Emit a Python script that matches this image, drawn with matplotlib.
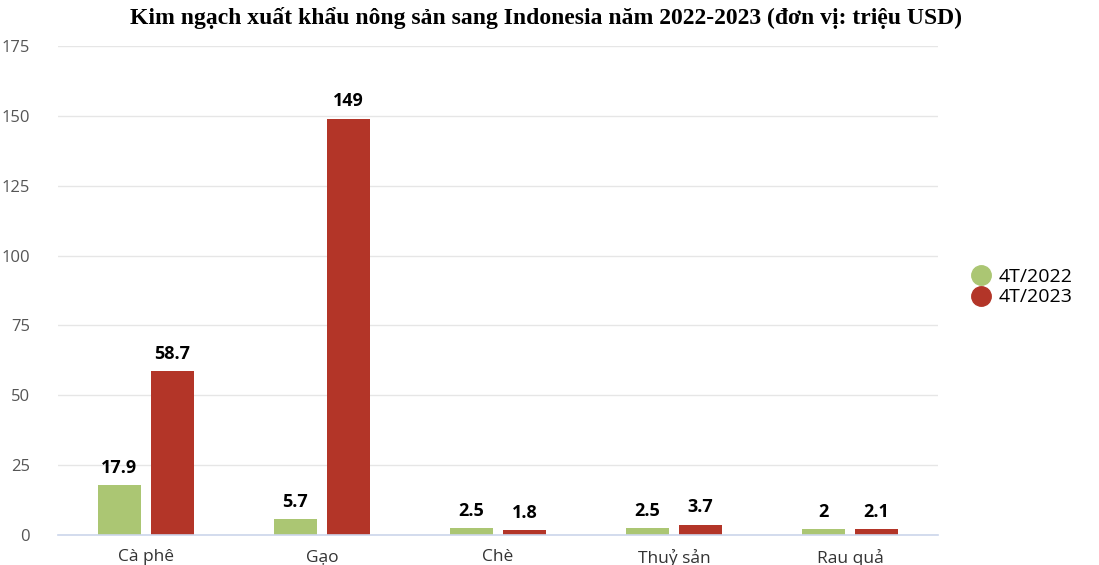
import numpy as np
import matplotlib.pyplot as plt

categories = ['Cà phê', 'Gạo', 'Chè', 'Thuỷ sản', 'Rau quả']
series_names = ['4T/2022', '4T/2023']
v2022 = [17.9, 5.7, 2.5, 2.5, 2]
v2023 = [58.7, 149, 1.8, 3.7, 2.1]
labels2022 = ['17.9', '5.7', '2.5', '2.5', '2']
labels2023 = ['58.7', '149', '1.8', '3.7', '2.1']
yticks = [0, 25, 50, 75, 100, 125, 150, 175]

green = '#abc673'
red = '#b33528'

fig = plt.figure(figsize=(10.99, 5.65), dpi=100)
ax = fig.add_axes([58 / 1099, (565 - 535) / 565, 880 / 1099, 489 / 565])

x = np.arange(len(categories))
w = 0.24
off = 0.151
b1 = ax.bar(x - off, v2022, w, color=green, label=series_names[0], zorder=3)
b2 = ax.bar(x + off, v2023, w, color=red, label=series_names[1], zorder=3)

for bars, labs in ((b1, labels2022), (b2, labels2023)):
    for b, t in zip(bars, labs):
        ax.annotate(t, (b.get_x() + b.get_width() / 2, b.get_height()),
                    xytext=(0, 6), textcoords='offset points',
                    ha='center', va='bottom', fontsize=13, fontweight='bold',
                    family='Open Sans', color='#000000')

ax.set_xlim(-0.5, len(categories) - 0.5)
ax.set_ylim(0, 175)
ax.set_yticks(yticks)
ax.set_xticks(x)
ax.set_xticklabels(categories, family='Open Sans', fontsize=12.5, color='#333333')
ax.set_yticklabels([str(v) for v in yticks], family='Open Sans', fontsize=12, color='#555555')
ax.tick_params(axis='both', length=0)
ax.tick_params(axis='x', pad=10)
ax.tick_params(axis='y', pad=20)

ax.grid(axis='y', color='#e6e6e6', linewidth=1, zorder=0)
for s in ['top', 'right', 'left']:
    ax.spines[s].set_visible(False)
ax.spines['bottom'].set_color('#ccd6eb')
ax.spines['bottom'].set_linewidth(1.2)
ax.spines['bottom'].set_zorder(4)

fig.text(546 / 1099, 1 - 18 / 565, 'Kim ngạch xuất khẩu nông sản sang Indonesia năm 2022-2023 (đơn vị: triệu USD)',
         ha='center', va='center', fontsize=17, fontweight='bold', family='Liberation Serif')

handles = [plt.Line2D([], [], marker='o', linestyle='', markersize=14, color=green),
           plt.Line2D([], [], marker='o', linestyle='', markersize=14, color=red)]
fig.legend(handles, series_names, loc='center left', bbox_to_anchor=(962 / 1099, 1 - 287 / 565),
           frameon=False, prop={'family': 'Open Sans', 'size': 14}, handletextpad=0.3,
           labelspacing=0.15, borderaxespad=0, handlelength=1.2)

fig.savefig('out.png', dpi=100)
